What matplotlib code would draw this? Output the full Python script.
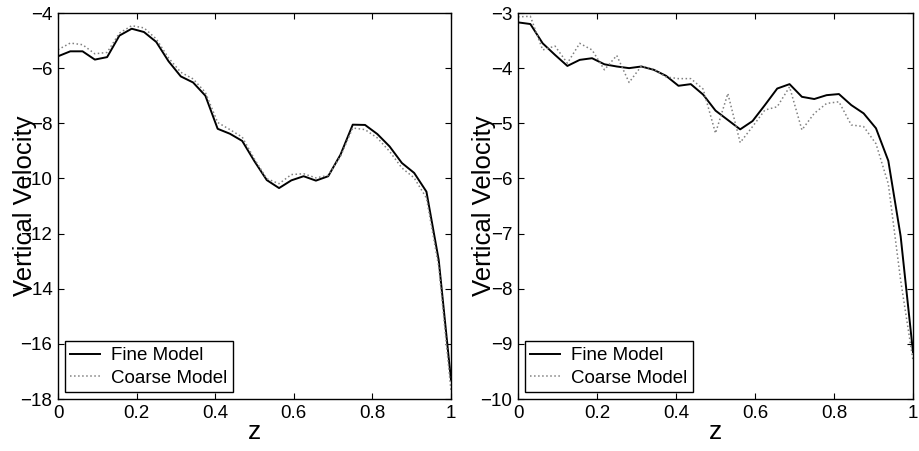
import numpy as np
import matplotlib
matplotlib.use('Agg')
import matplotlib.pyplot as plt
import matplotlib.ticker as tck

# z grid, 33 nodes
z = [0, 1/32, 2/32, 3/32, 4/32, 5/32, 6/32, 7/32, 8/32, 9/32, 10/32,
     11/32, 12/32, 13/32, 14/32, 15/32, 16/32, 17/32, 18/32, 19/32, 20/32,
     21/32, 22/32, 23/32, 24/32, 25/32, 26/32, 27/32, 28/32, 29/32, 30/32,
     31/32, 1]

fine_left = [-5.57, -5.39, -5.39, -5.69, -5.60, -4.82, -4.57, -4.69, -5.05, -5.75,
             -6.30, -6.52, -7.00, -8.20, -8.38, -8.64, -9.38, -10.06, -10.35, -10.07,
             -9.92, -10.08, -9.92, -9.14, -8.05, -8.06, -8.39, -8.84, -9.44, -9.80,
             -10.48, -12.96, -17.31]
coarse_left = [-5.33, -5.09, -5.15, -5.48, -5.43, -4.73, -4.46, -4.54, -4.94, -5.63,
               -6.15, -6.39, -6.88, -7.97, -8.23, -8.50, -9.30, -10.01, -10.19, -9.86,
               -9.83, -9.98, -9.89, -9.20, -8.17, -8.23, -8.53, -9.02, -9.62, -9.98,
               -10.71, -13.2, -17.7]

fine_right = [-3.17, -3.20, -3.55, -3.76, -3.96, -3.85, -3.82, -3.93, -3.97, -4.00,
              -3.97, -4.03, -4.14, -4.32, -4.29, -4.48, -4.77, -4.94, -5.11, -4.96,
              -4.67, -4.37, -4.29, -4.52, -4.56, -4.49, -4.47, -4.67, -4.82, -5.09,
              -5.68, -7.05, -9.15]
coarse_right = [-3.07, -3.06, -3.67, -3.60, -3.91, -3.55, -3.67, -4.03, -3.77, -4.26,
                -3.96, -4.02, -4.16, -4.19, -4.19, -4.38, -5.18, -4.46, -5.35, -5.06,
                -4.76, -4.70, -4.34, -5.12, -4.82, -4.64, -4.61, -5.03, -5.06, -5.37,
                -6.10, -7.85, -9.30]

xticks = [0, 0.2, 0.4, 0.6, 0.8, 1]
yticks_left = [-18, -16, -14, -12, -10, -8, -6, -4]
yticks_right = [-10, -9, -8, -7, -6, -5, -4, -3]

plt.rcParams['font.family'] = ['Liberation Sans Narrow', 'Liberation Sans', 'DejaVu Sans']

fig = plt.figure(figsize=(9.19, 4.51), dpi=100)
ax1 = fig.add_axes([58/919, 52/451, 393/919, 386/451])
ax2 = fig.add_axes([518/919, 52/451, 395/919, 386/451])

panels = [(ax1, fine_left, coarse_left, yticks_left, -0.053),
          (ax2, fine_right, coarse_right, yticks_right, -0.056)]

for ax, fine, coarse, yt, lx in panels:
    ax.plot(z, fine, '-', color='black', lw=1.4, label='Fine Model')
    ax.plot(z, coarse, ':', color='0.5', lw=1.1, label='Coarse Model')
    ax.set_xlim(0, 1)
    ax.set_ylim(yt[0], yt[-1])
    ax.set_xticks(xticks)
    ax.set_yticks(yt)
    ax.xaxis.set_major_formatter(tck.FormatStrFormatter('%g'))
    ax.tick_params(direction='in', top=True, right=True, length=4, width=0.8,
                   labelsize=13.5, pad=4)
    for s in ax.spines.values():
        s.set_linewidth(1.0)
    ax.set_xlabel('z', fontsize=19)
    ax.xaxis.set_label_coords(0.5, -0.055)
    ax.set_ylabel('Vertical Velocity', fontsize=18.5)
    ax.yaxis.set_label_coords(lx, 0.5)
    leg = ax.legend(loc='lower left', fontsize=13.5, fancybox=False, framealpha=1,
                    edgecolor='black', borderaxespad=0.35, handlelength=1.6,
                    handletextpad=0.6, labelspacing=0.3, borderpad=0.3)
    leg.get_frame().set_linewidth(1.0)

plt.savefig('out.png', dpi=100)
